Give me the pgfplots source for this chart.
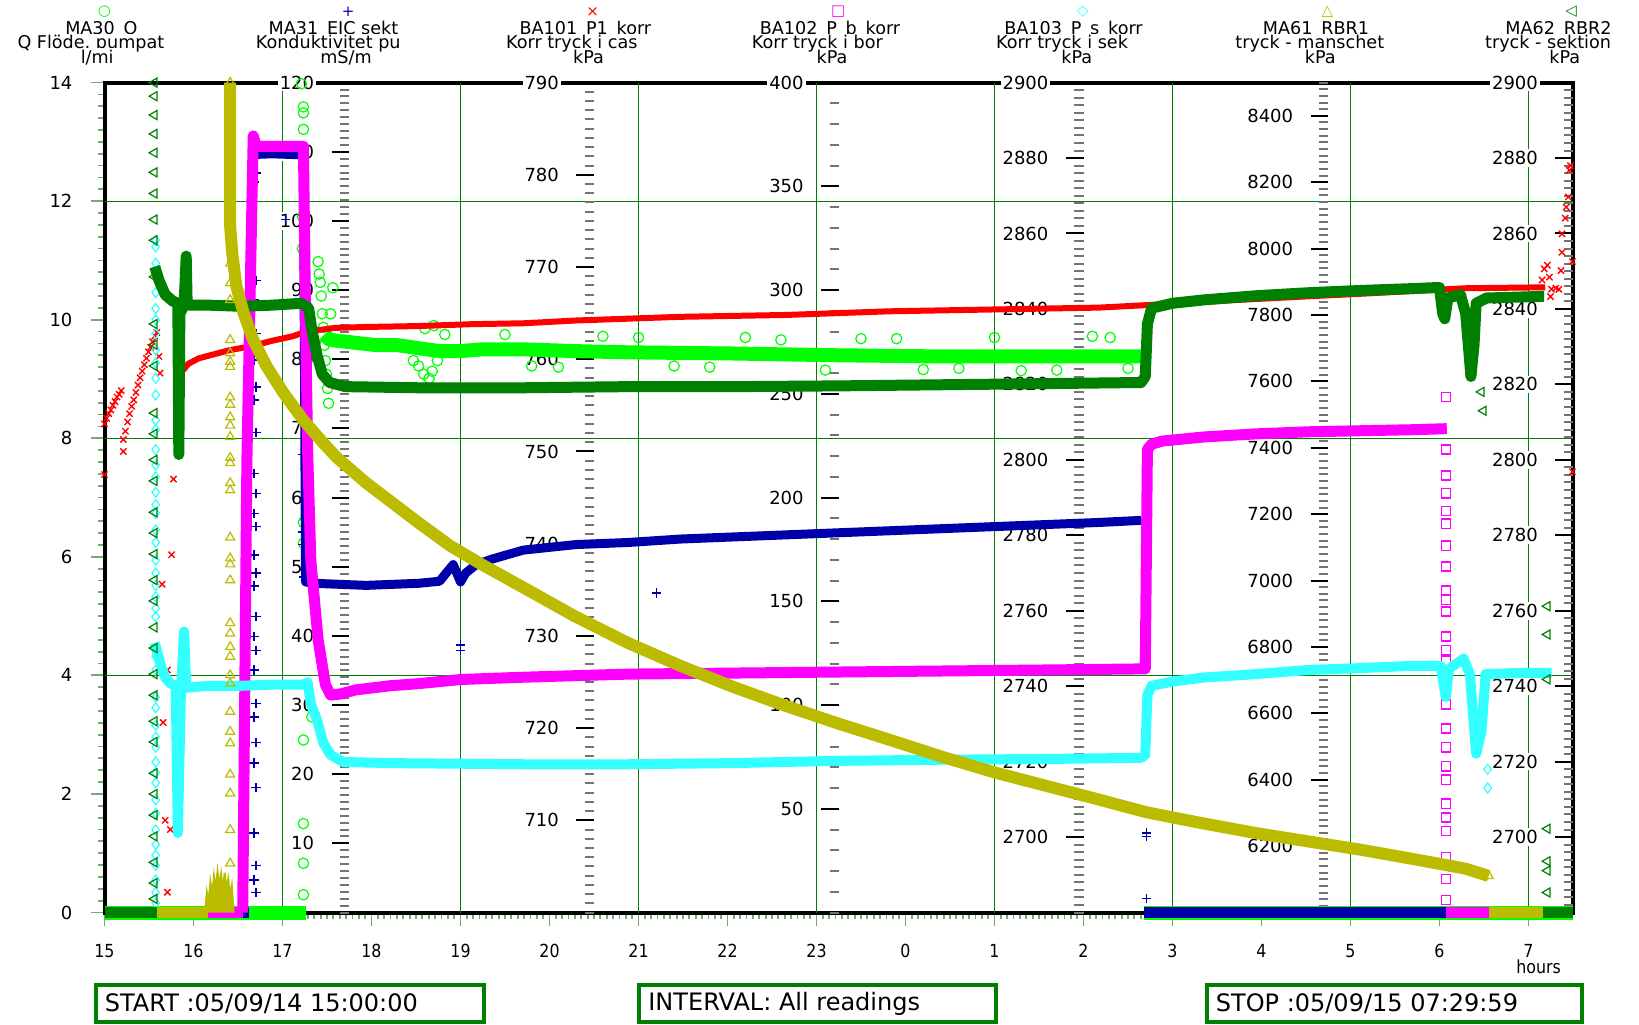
\documentclass[border=0pt]{standalone}
\usepackage{pgfplots}
\pgfplotsset{compat=1.18}
\usepackage{fontspec}
\setmainfont{DejaVu Sans}
\newfontfamily\condfont[FakeStretch=0.88]{DejaVu Sans}
\definecolor{cGreen}{RGB}{0,255,0}
\definecolor{cBlue}{RGB}{0,0,170}
\definecolor{cRed}{RGB}{255,0,0}
\definecolor{cMag}{RGB}{255,0,255}
\definecolor{cCyan}{RGB}{51,255,255}
\definecolor{cOlive}{RGB}{187,187,0}
\definecolor{cDk}{RGB}{0,128,0}
\definecolor{gridGreen}{RGB}{0,128,0}
\definecolor{tickGreen}{RGB}{110,175,110}
\newcommand{\hdr}{\fontsize{8.8pt}{8.8pt}\selectfont}
\pgfplotsset{
  myframe/.style={scale only axis, width=734.25pt, height=414.95pt, anchor=south west, at={(52.25pt,55.75pt)}, xmin=15, xmax=31.5},
  mydata/.style={myframe, hide axis, clip=false},
  ruler/.style={scale only axis, width=0.1pt, height=414.95pt, anchor=south west,
    xmin=0, xmax=1, xtick=\empty, axis line style={draw=none}, ytick pos=left,
    tick align=outside, major tick length=8.8pt, minor tick length=4.5pt,
    major tick style={black, line width=1pt}, minor tick style={black!55, line width=1pt},
    yticklabel style={fill=white, inner sep=1pt, font=\fontsize{9pt}{9pt}\selectfont, xshift=-7.5pt},
    /pgf/number format/assume math mode=true, /pgf/number format/1000 sep={}},
}
\begin{document}
\begin{tikzpicture}
\path[use as bounding box] (0,0) rectangle (819.5pt,512pt);

% ---------- main frame / left scale (l/min) ----------
\begin{axis}[myframe, ymin=0, ymax=14,
  axis line style={black, line width=2pt},
  xtick={15,...,31},
  xticklabels={15,16,17,18,19,20,21,22,23,0,1,2,3,4,5,6,7},
  ytick={0,2,...,14},
  minor x tick num=13,
  minor ytick={0,0.2,...,14},
  tick align=outside, tick pos=left,
  major tick length=6.5pt, minor tick length=3.2pt,
  tick style={tickGreen, line width=0.9pt},
  extra x ticks={17,19,...,31}, extra x tick labels={},
  extra x tick style={grid=major, major tick length=0pt},
  extra y ticks={4,8,12}, extra y tick labels={},
  extra y tick style={grid=major, major tick length=0pt},
  major grid style={gridGreen, line width=0.6pt},
  xticklabel style={font=\condfont\fontsize{9pt}{9pt}\selectfont, yshift=-6pt},
  yticklabel style={font=\fontsize{9pt}{9pt}\selectfont, xshift=-6pt},
  /pgf/number format/assume math mode=true]
\end{axis}

% ---------- rulers ----------
\begin{axis}[ruler, at={(174.625pt,55.75pt)}, ymin=0, ymax=120, ytick={10,20,...,120}, minor ytick={0,1,...,120}]
\end{axis}
\begin{axis}[ruler, at={(297pt,55.75pt)}, ymin=700, ymax=790, ytick={710,720,...,790}, minor ytick={700,701,...,790}]
\end{axis}
\begin{axis}[ruler, at={(419.375pt,55.75pt)}, ymin=0, ymax=400, ytick={50,100,...,400}, minor ytick={0,10,...,400}]
\end{axis}
\begin{axis}[ruler, at={(541.75pt,55.75pt)}, ymin=2680, ymax=2900, ytick={2700,2720,...,2900}, minor ytick={2680,2682,...,2900}]
\end{axis}
\begin{axis}[ruler, at={(664.125pt,55.75pt)}, ymin=6000, ymax=8500, ytick={6200,6400,...,8400}, minor ytick={6000,6020,...,8500}]
\end{axis}
\begin{axis}[ruler, at={(786.5pt,55.75pt)}, ymin=2680, ymax=2900, ytick={2700,2720,...,2900}, minor ytick={2680,2682,...,2900}]
\end{axis}

% ---------- MA30 Q (l/min) ----------
\begin{axis}[mydata, ymin=0, ymax=14]
\addplot[cGreen, line width=7pt] coordinates {(15,0) (17.26,0)};
\addplot[cGreen, line width=7pt] coordinates {(26.68,0) (31.5,0)};
\addplot[cGreen, line width=7pt, line join=round] coordinates {(17.471,9.75) (17.529,9.66) (17.706,9.63) (18.059,9.57) (18.294,9.57) (18.529,9.52) (18.765,9.47) (19.000,9.47) (19.235,9.50) (19.706,9.50) (20.294,9.47) (20.882,9.45) (22.059,9.43) (23.235,9.40) (24.412,9.38) (25.588,9.38) (26.647,9.38)};
\addplot[only marks, mark=o, mark size=2.6pt, cGreen, line width=0.6pt] coordinates {
(17.212,13.98)(17.235,13.59)(17.235,13.49)(17.235,13.21)(17.235,12.57)(17.224,11.74)(17.224,11.20)(17.235,6.58)(17.235,6.23)(17.329,3.30)(17.235,2.91)(17.235,1.50)(17.235,0.83)(17.235,0.30)
(17.400,10.98)(17.412,10.77)(17.424,10.63)(17.435,10.40)(17.447,10.10)(17.459,9.87)(17.471,9.57)(17.482,9.31)(17.494,9.08)(17.506,8.84)(17.518,8.59)(17.541,10.10)(17.565,10.54)
(18.471,9.31)(18.529,9.22)(18.588,9.08)(18.647,9.01)(18.682,9.13)(18.741,9.31)(18.824,9.75)(18.60,9.85)(18.70,9.90)
(19.5,9.75)(19.8,9.22)(20.1,9.20)(20.6,9.72)(21.0,9.70)(21.4,9.22)(21.8,9.20)(22.2,9.70)(22.6,9.66)(23.1,9.15)(23.5,9.68)(23.9,9.68)(24.2,9.16)(24.6,9.18)(25.0,9.70)(25.3,9.14)(25.7,9.15)(26.1,9.72)(26.3,9.70)(26.5,9.18)};
\end{axis}

% ---------- MA31 conductivity (mS/m) ----------
\begin{axis}[mydata, ymin=0, ymax=120]
\addplot[cBlue, line width=5.5pt] coordinates {(15,0) (16.62,0)};
\addplot[cBlue, line width=5.5pt] coordinates {(26.68,0) (31.5,0)};
\addplot[cBlue, line width=4.5pt, line join=round] coordinates {(16.659,109.6) (16.882,109.7) (17.118,109.6) (17.235,109.6) (17.259,47.8) (17.353,47.6) (17.941,47.3) (18.529,47.6) (18.765,47.9) (18.859,49.4) (18.918,50.3) (19.000,47.8) (19.059,49.1) (19.176,50.3) (19.353,51.1) (19.706,52.4) (20.294,53.2) (20.882,53.5) (21.471,54.0) (22.059,54.3) (22.647,54.6) (23.235,54.9) (23.824,55.2) (24.412,55.5) (25.000,55.8) (25.588,56.1) (26.176,56.4) (26.647,56.7)};
\addplot[only marks, mark=+, mark size=2.4pt, cBlue, line width=0.8pt] coordinates {
(16.68,109.3)(16.70,106.9)(16.68,105.6)(16.70,91.4)(16.68,88.6)(16.70,83.7)(16.68,79.9)(16.70,76.0)(16.68,74.1)(16.70,69.4)(16.68,63.5)(16.70,60.6)(16.68,57.7)(16.70,55.8)(16.68,51.7)(16.70,49.1)(16.68,47.2)(16.70,42.8)(16.68,39.9)(16.70,37.9)(16.68,35.1)(16.70,30.2)(16.68,28.3)(16.70,24.6)(16.68,21.6)(16.70,18.1)(16.68,11.5)(16.70,6.8)(16.68,4.7)(16.70,2.9)
(17.035,100.2)(17.224,66.2)(17.224,55.0)(17.224,53.2)(17.235,48.5)(21.2,46.2)(19.0,38.7)(19.0,37.9)(26.706,11.5)(26.706,11.0)(26.706,2.0)};
\end{axis}

% ---------- BA101 P1 korr (kPa) ----------
\begin{axis}[mydata, ymin=700, ymax=790]
\addplot[cRed, line width=3pt, line join=round] coordinates {(15.882,758.8) (15.941,759.5) (16.059,760.1) (16.176,760.4) (16.412,761.0) (16.647,761.4) (16.882,762.0) (17.118,762.5) (17.235,762.9) (17.353,763.1) (17.588,763.4) (17.941,763.5) (18.529,763.6) (19.118,763.8) (19.706,763.9) (20.294,764.2) (20.882,764.4) (21.471,764.6) (22.059,764.7) (22.647,764.8) (23.235,765.0) (23.824,765.2) (24.412,765.3) (25.000,765.4) (25.588,765.5) (26.176,765.6) (26.765,765.9) (27.671,766.4) (28.682,766.9) (29.118,767.1) (30.294,767.7) (31.188,767.8)};
\addplot[only marks, mark=x, mark size=2.2pt, cRed, line width=0.7pt] coordinates {
(15.000,747.5)(15.000,753.0)(15.024,753.6)(15.047,754.1)(15.071,754.5)(15.094,755.0)(15.118,755.4)(15.141,755.9)(15.165,756.2)(15.188,756.6)
(15.212,751.3)(15.235,752.2)(15.259,753.2)(15.282,754.1)(15.306,754.9)(15.329,755.6)(15.353,756.4)(15.376,757.2)(15.400,758.0)(15.424,758.7)(15.447,759.4)(15.471,760.1)(15.494,760.8)(15.518,761.3)(15.541,761.9)(15.565,762.5)(15.588,762.9)
(15.212,750.0)(15.612,760.3)(15.624,758.5)(15.776,747.0)(15.753,738.8)(15.647,735.6)(15.706,726.3)(15.659,720.6)(15.682,710.0)(15.741,709.0)(15.706,702.2)
(31.176,769.8)(31.212,770.2)(31.153,768.6)(31.235,768.9)(31.259,767.6)(31.306,767.7)(31.341,767.6)(31.247,766.8)(31.365,769.6)(31.376,771.6)(31.376,773.6)(31.412,775.3)(31.424,776.5)(31.447,777.6)(31.459,780.5)(31.471,781.0)(31.494,770.6)(31.494,747.8)};
\end{axis}

% ---------- BA102 P_b korr (kPa) ----------
\begin{axis}[mydata, ymin=0, ymax=400]
\addplot[cMag, line width=5.5pt] coordinates {(15,0) (16.553,0)};
\addplot[cMag, line width=5.5pt] coordinates {(30.071,0) (31.5,0)};
\addplot[cMag, line width=5.5pt, line join=round] coordinates {(16.553,0) (16.600,218.1) (16.671,374.3) (16.706,369.3) (16.882,369.3) (17.118,369.3) (17.235,369.3) (17.259,288.7) (17.282,223.2) (17.318,169.8) (17.400,131.5) (17.482,109.8) (17.541,104.8) (17.647,105.3) (17.824,107.3) (18.212,109.3) (18.529,110.3) (19.000,112.3) (19.706,113.4) (20.882,114.9) (22.059,115.4) (23.235,115.9) (24.412,116.4) (25.588,116.9) (26.647,117.4) (26.694,117.4) (26.718,223.2) (26.765,225.7) (26.882,227.2) (27.353,229.2) (27.941,230.7) (28.529,231.7) (29.118,232.2) (29.706,232.7) (30.082,233.2)};
\addplot[only marks, mark=square, mark size=2.3pt, cMag, line width=0.7pt] coordinates {
(30.071,248.4)(30.071,223.2)(30.071,210.6)(30.071,202.0)(30.071,193.5)(30.071,187.4)(30.071,176.8)(30.071,166.8)(30.071,155.2)(30.071,150.6)(30.071,145.1)(30.071,133.0)(30.071,126.4)(30.071,121.4)(30.071,100.3)(30.071,88.7)(30.071,79.6)(30.071,70.5)(30.071,64.0)(30.071,52.4)(30.071,45.8)(30.071,39.3)(30.071,26.7)(30.071,16.1)(30.071,6.0)};
\end{axis}

% ---------- BA103 P_s korr (kPa) ----------
\begin{axis}[mydata, ymin=2680, ymax=2900]
\addplot[cCyan, line width=5pt, line join=round] coordinates {(15.565,2751.5) (15.624,2746.2) (15.682,2742.3) (15.741,2740.7) (15.800,2740.1) (15.824,2701.1) (15.859,2739.0) (15.894,2754.5) (15.918,2739.6) (16.176,2740.1) (16.529,2740.1) (16.882,2740.4) (17.235,2740.4) (17.282,2741.0) (17.318,2735.4) (17.388,2731.0) (17.459,2724.9) (17.541,2721.8) (17.682,2719.9) (18.212,2719.6) (19.706,2719.3) (20.882,2719.3) (22.059,2719.6) (23.235,2720.2) (24.412,2720.5) (25.588,2720.7) (26.647,2721.0) (26.694,2721.8) (26.718,2737.6) (26.765,2740.1) (27.000,2741.2) (27.353,2742.3) (27.941,2743.2) (28.529,2744.3) (29.118,2744.8) (29.706,2745.4) (30.012,2745.4) (30.071,2737.1) (30.106,2744.6) (30.271,2747.3) (30.341,2743.2) (30.412,2722.1) (30.471,2727.9) (30.518,2743.2) (30.882,2743.5) (31.259,2743.5)};
\addplot[only marks, mark=diamond, mark size=2.5pt, cCyan, line width=0.6pt] coordinates {
(15.575,2858.2)(15.575,2856.5)(15.575,2852.1)(15.575,2849.6)(15.575,2844.3)(15.575,2840.1)(15.575,2837.1)(15.575,2833.5)(15.575,2829.1)(15.575,2825.7)(15.575,2821.6)(15.575,2817.2)(15.575,2810.5)(15.575,2808.0)(15.575,2802.7)(15.575,2798.6)(15.575,2795.5)(15.575,2791.4)(15.575,2788.1)(15.575,2785.8)(15.575,2781.4)(15.575,2778.1)(15.575,2773.4)(15.575,2770.0)(15.575,2766.7)(15.575,2763.7)(15.575,2760.6)(15.575,2758.4)(15.575,2747.9)(15.575,2744.3)(15.575,2737.1)(15.575,2734.3)(15.575,2729.6)(15.575,2726.5)(15.575,2723.8)(15.575,2719.9)(15.575,2717.1)(15.575,2714.4)(15.575,2709.9)(15.575,2706.3)(15.575,2701.9)(15.575,2698.0)(15.575,2695.2)(15.575,2692.5)(15.575,2688.6)(15.575,2685.3)(15.575,2682.5)
(30.541,2718.0)(30.541,2713.0)};
\end{axis}

% ---------- MA62 RBR2 (kPa) ----------
\begin{axis}[mydata, ymin=2680, ymax=2900]
\addplot[cDk, line width=5.5pt] coordinates {(15,2680) (15.59,2680)};
\addplot[cDk, line width=5.5pt] coordinates {(31.165,2680) (31.5,2680)};
\addplot[cDk, line width=5.5pt, line join=round] coordinates {(15.565,2851.2) (15.612,2847.6) (15.682,2843.8) (15.765,2842.1) (15.824,2841.5) (15.835,2801.4) (15.847,2838.8) (15.894,2841.0) (15.918,2854.0) (15.929,2841.0) (16.176,2841.0) (16.529,2840.7) (16.882,2841.0) (17.212,2841.5) (17.294,2840.2) (17.329,2834.6) (17.388,2827.7) (17.447,2822.7) (17.529,2820.5) (17.706,2819.4) (18.529,2819.1) (19.706,2819.1) (20.882,2819.4) (22.059,2819.4) (23.235,2819.6) (24.412,2819.9) (25.588,2820.2) (26.647,2820.5) (26.694,2822.1) (26.718,2836.0) (26.765,2840.2) (27.000,2841.5) (27.353,2842.4) (27.941,2843.5) (28.529,2844.3) (29.118,2844.9) (29.706,2845.4) (30.000,2845.7) (30.035,2838.8) (30.059,2837.4) (30.094,2842.9) (30.235,2843.8) (30.294,2838.8) (30.353,2822.1) (30.388,2830.5) (30.412,2841.5) (30.529,2842.9) (31.118,2843.3) (31.176,2843.3)};
\addplot[only marks, mark=triangle, mark options={rotate=90}, mark size=2.6pt, cDk, line width=0.6pt] coordinates {
(15.56,2900.0)(15.56,2896.4)(15.56,2891.4)(15.56,2886.4)(15.56,2881.4)(15.56,2876.2)(15.56,2870.6)(15.56,2863.7)(15.56,2858.2)(15.56,2848.5)(15.56,2836.0)(15.56,2830.5)(15.56,2824.9)(15.56,2812.4)(15.56,2806.9)(15.56,2800.0)(15.56,2794.4)(15.56,2786.1)(15.56,2780.6)(15.56,2775.0)(15.56,2768.1)(15.56,2762.6)(15.56,2755.6)(15.56,2750.1)(15.56,2743.2)(15.56,2737.6)(15.56,2730.7)(15.56,2725.2)(15.56,2716.9)(15.56,2711.4)(15.56,2705.8)(15.56,2700.2)(15.56,2693.3)(15.56,2687.8)(15.56,2683.6)
(30.471,2818.0)(30.494,2813.0)(31.212,2761.2)(31.212,2753.7)(31.212,2741.8)(31.212,2702.2)(31.212,2693.6)(31.212,2691.1)(31.212,2685.3)};
\end{axis}

% ---------- MA61 RBR1 (kPa) ----------
\begin{axis}[mydata, ymin=6000, ymax=8500]
\addplot[cOlive, line width=5.5pt] coordinates {(15.59,6000) (16.16,6000)};
\addplot[cOlive, line width=5.5pt] coordinates {(30.553,6000) (31.165,6000)};
\addplot[cOlive, fill=cOlive, line width=1pt] coordinates {(16.13,6000) (16.15,6060) (16.17,6030) (16.19,6090) (16.21,6050) (16.23,6110) (16.25,6070) (16.27,6123) (16.29,6080) (16.31,6115) (16.33,6060) (16.35,6120) (16.37,6070) (16.39,6100) (16.41,6050) (16.43,6080) (16.45,6000)};
\addplot[only marks, mark=triangle, mark size=2.6pt, cOlive, line width=0.6pt] coordinates {
(16.412,8500)(16.412,8468)(16.412,8437)(16.412,8409)(16.412,8380)(16.412,8368)(16.412,8349)(16.412,8317)(16.412,7955)(16.412,7896)(16.412,7845)(16.412,7725)(16.412,7685)(16.412,7659)(16.412,7644)(16.412,7552)(16.412,7530)(16.412,7492)(16.412,7467)(16.412,7433)(16.412,7370)(16.412,7354)(16.412,7294)(16.412,7272)(16.412,7130)(16.412,7067)(16.412,7049)(16.412,7001)(16.412,6872)(16.412,6841)(16.412,6800)(16.412,6771)(16.412,6715)(16.412,6690)(16.412,6605)(16.412,6545)(16.412,6510)(16.412,6416)(16.412,6359)(16.412,6249)(16.412,6148)
(30.553,6110)};
\addplot[cOlive, line width=6pt, line join=round] coordinates {(16.412,8500) (16.412,8317) (16.412,8066) (16.435,7987) (16.482,7886) (16.565,7804) (16.671,7725) (16.824,7644) (17.012,7565) (17.235,7483) (17.459,7414) (17.612,7370) (17.941,7294) (18.529,7174) (18.882,7105) (19.235,7049) (19.706,6979) (20.294,6891) (20.882,6812) (21.471,6743) (22.059,6680) (22.647,6623) (23.235,6570) (23.824,6520) (24.412,6469) (25.000,6422) (25.588,6381) (26.176,6340) (26.706,6302) (27.353,6268) (27.941,6239) (28.529,6214) (29.118,6189) (29.706,6161) (30.294,6132) (30.553,6110)};
\end{axis}

% ---------- header, footer texts ----------
\begin{scope}[shift={(0pt,512pt)}, x=0.5pt, y=-0.5pt]
\begin{scope}[every node/.style={font=\fontsize{7.5pt}{7.5pt}\selectfont, inner sep=0pt}]
\node[text=cGreen] at (104.5,11.7) {○};
\node[text=cBlue] at (348.1,11.7) {+};
\node[text=cRed] at (592.7,11.7) {×};
\node[text=cMag] at (838.3,11.7) {□};
\node[text=cCyan] at (1082.9,11.7) {◇};
\node[text=cOlive] at (1327.5,11.7) {△};
\node[text=cDk] at (1571.1,11.7) {◁};
\end{scope}
\begin{scope}[every node/.style={font=\hdr, anchor=base, inner sep=0pt}]
\node at (101.4,35) {MA30\_Q};
\node at (333.5,35) {MA31\_EIC sekt};
\node at (585.4,35) {BA101\_P1\_korr};
\node at (830.0,35) {BA102\_P\_b\_korr};
\node at (1073.5,35) {BA103\_P\_s\_korr};
\node at (1316.0,35) {MA61\_RBR1};
\node at (1558.5,35) {MA62\_RBR2};
\end{scope}
\begin{scope}[every node/.style={font=\hdr, anchor=base, fill=white, inner xsep=0pt, inner ysep=1pt}]
\node at (90.9,49) {Q Flöde, pumpat};
\node at (328.2,49) {Konduktivitet pu};
\node at (571.8,49) {Korr tryck i cas};
\node at (817.4,49) {Korr tryck i bor};
\node at (1062.0,49) {Korr tryck i sek};
\node at (1309.8,49) {tryck - manschet};
\node at (1548.1,49) {tryck - sektion};
\node at (97.2,63.3) {l/mi};
\node at (346.0,63.3) {mS/m};
\node at (588.5,63.3) {kPa};
\node at (832.1,63.3) {kPa};
\node at (1076.7,63.3) {kPa};
\node at (1320.2,63.3) {kPa};
\node at (1564.8,63.3) {kPa};
\end{scope}
\node[font=\condfont\fontsize{9pt}{9pt}\selectfont] at (1538.7,967) {hours};
\draw[cDk, line width=2pt] (96.2,984.7) rectangle (484,1022);
\draw[cDk, line width=2pt] (638.7,984.7) rectangle (996.2,1022);
\draw[cDk, line width=2pt] (1207,984.7) rectangle (1581.6,1022);
\begin{scope}[every node/.style={font=\fontsize{12pt}{12pt}\selectfont, anchor=west, inner sep=0pt}]
\node at (104.5,1004) {START :05/09/14 15:00:00};
\node at (648,1004) {INTERVAL: All readings};
\node at (1215.5,1004) {STOP :05/09/15 07:29:59};
\end{scope}
\end{scope}
\end{tikzpicture}
\end{document}
